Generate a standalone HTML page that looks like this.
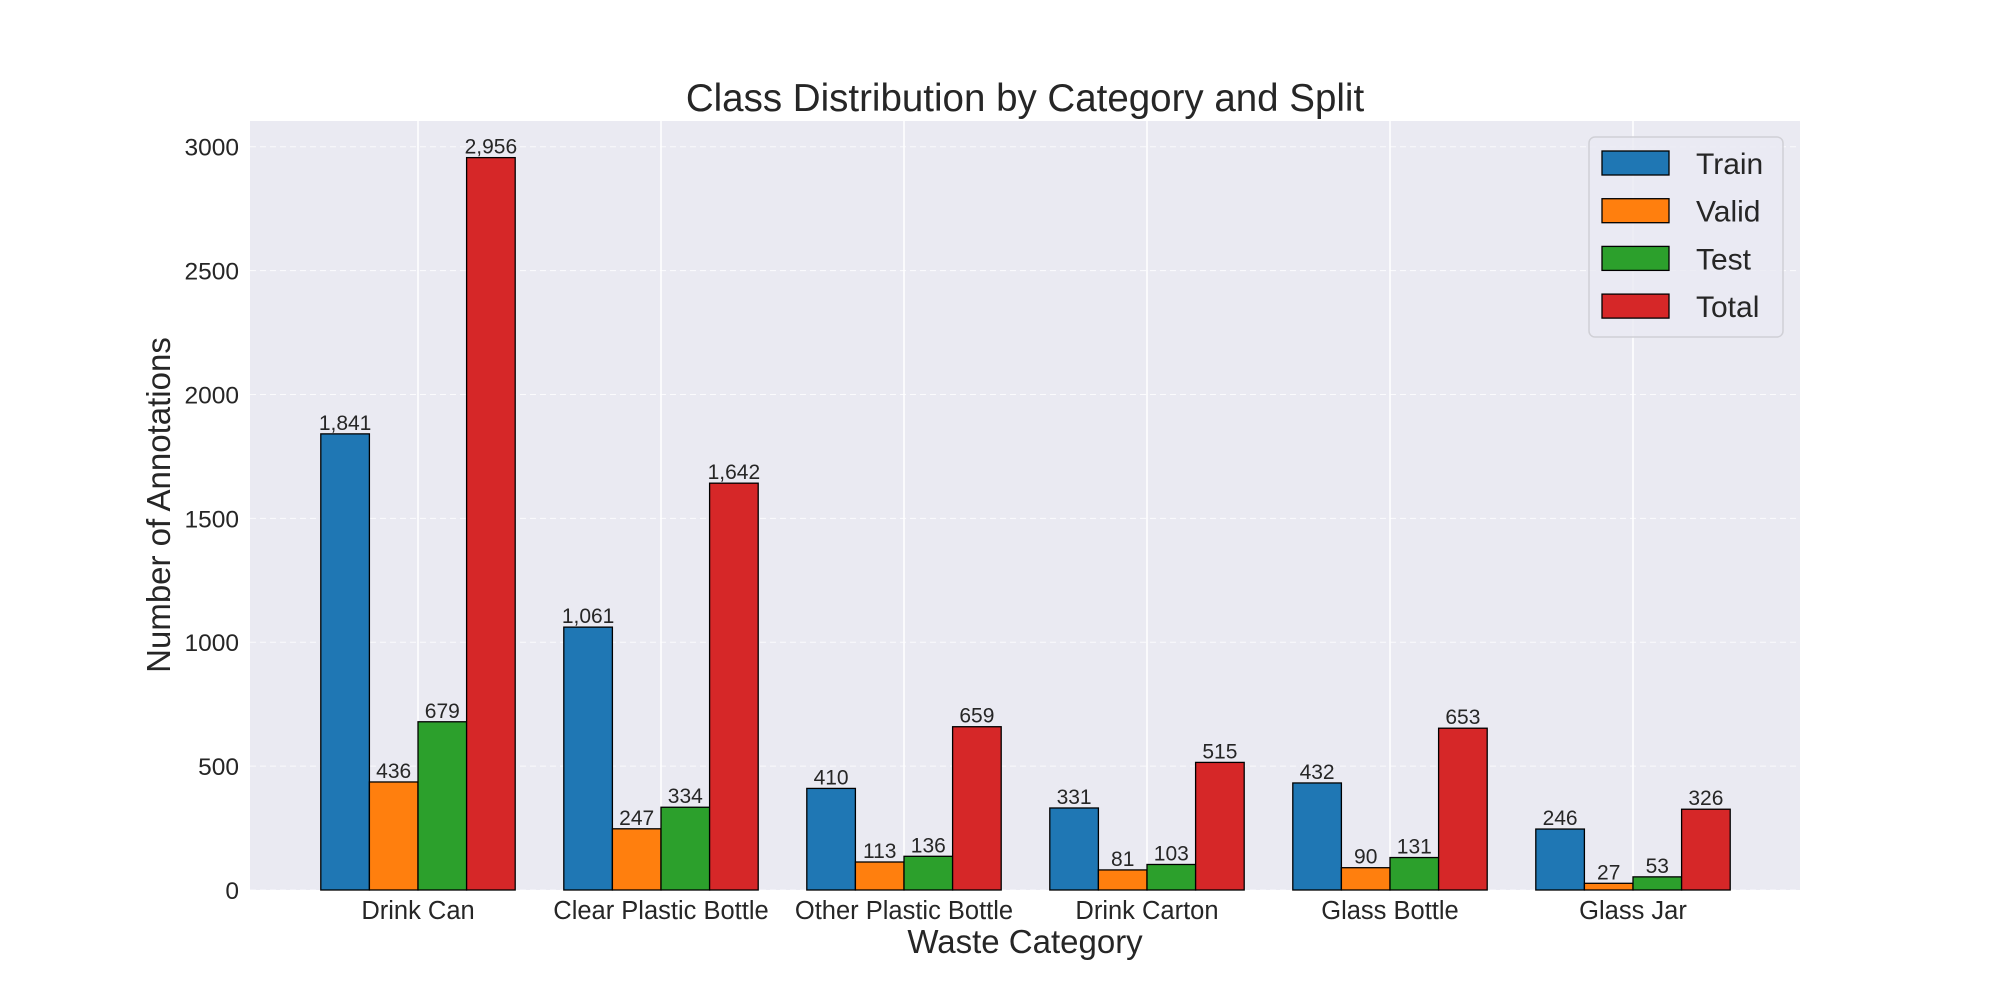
<!DOCTYPE html>
<html><head><meta charset="utf-8"><style>
body{margin:0;background:#fff;}
svg{display:block;font-family:"Liberation Sans",Arial,sans-serif;}
</style></head><body>
<svg id="chart" width="2000" height="1000" viewBox="0 0 2000 1000" xmlns="http://www.w3.org/2000/svg">
<rect x="0" y="0" width="2000" height="1000" fill="#fff"/>
<rect x="250" y="121" width="1550" height="769" fill="#eaeaf2"/>
<g id="grid"></g>
<g id="bars"></g>
<g id="labels"></g>
<g id="ticks"></g>
<text x="1025" y="111" text-anchor="middle" font-size="38.5" fill="#262626">Class Distribution by Category and Split</text>
<text x="1025" y="953" text-anchor="middle" font-size="33" fill="#262626">Waste Category</text>
<text transform="translate(170,505) rotate(-90)" text-anchor="middle" font-size="33" fill="#262626">Number of Annotations</text>
<g>
<rect x="1589" y="137" width="194" height="200" rx="6" fill="#eaeaf2" fill-opacity="0.8" stroke="#d0d0d6" stroke-width="1.5"/>
<g id="legend-entries"></g>
</g>
</svg>
<script>
const categories=["Drink Can","Clear Plastic Bottle","Other Plastic Bottle","Drink Carton","Glass Bottle","Glass Jar"];
const seriesNames=["Train","Valid","Test","Total"];
const trainVals=[1841,1061,410,331,432,246];
const validVals=[436,247,113,81,90,27];
const testVals=[679,334,136,103,131,53];
const totalVals=[2956,1642,659,515,653,326];
const yTicks=[0,500,1000,1500,2000,2500,3000];
const colors=["#1f77b4","#ff7f0e","#2ca02c","#d62728"];
const series=[trainVals,validVals,testVals,totalVals];
const NS="http://www.w3.org/2000/svg";
const yMax=3103.8, x0=418, step=243, bw=0.2;
const yS=v=>890-v*(769/yMax);
const xS=i=>x0+i*step;
function mk(tag,attrs,parent,text){const e=document.createElementNS(NS,tag);for(const k in attrs)e.setAttribute(k,attrs[k]);if(text!==undefined)e.textContent=text;document.getElementById(parent).appendChild(e);return e;}
yTicks.forEach(t=>{
  const g=mk('line',{x1:250,x2:1800,y1:yS(t),y2:yS(t),stroke:'#fff','stroke-opacity':0.8,'stroke-width':1,'stroke-dasharray':'6,4'},'grid');
  
  
  const l=mk('text',{x:239,y:yS(t)+9,'text-anchor':'end','font-size':24.5,fill:'#262626'},'ticks',String(t));
  
  
});
categories.forEach((c,i)=>{
  const g=mk('line',{x1:xS(i),x2:xS(i),y1:121,y2:890,stroke:'#fff','stroke-width':1.5},'grid');
  
  
  const l=mk('text',{x:xS(i),y:919,'text-anchor':'middle','font-size':25.5,fill:'#262626'},'ticks',c);
  
  
});
series.forEach((vals,s)=>{
  vals.forEach((v,i)=>{
    const xl=xS(i+(s-2)*bw);
    const w=step*bw;
    const b=mk('rect',{x:xl,y:yS(v),width:w,height:890-yS(v),fill:colors[s],stroke:'#000','stroke-width':1.3},'bars');
    
    
    const t=mk('text',{x:xl+w/2,y:yS(v)-4,'text-anchor':'middle','font-size':21,fill:'#262626'},'labels',v.toLocaleString('en-US'));
    
    
  });
});
seriesNames.forEach((n,s)=>{
  const cy=163+s*47.7;
  const p=mk('rect',{x:1602,y:cy-12,width:67,height:24,fill:colors[s],stroke:'#000','stroke-width':1.3},'legend-entries');
  
  
  const t=mk('text',{x:1696,y:cy+11,'font-size':30,fill:'#262626'},'legend-entries',n);
  
  
});
</script>
</body></html>
